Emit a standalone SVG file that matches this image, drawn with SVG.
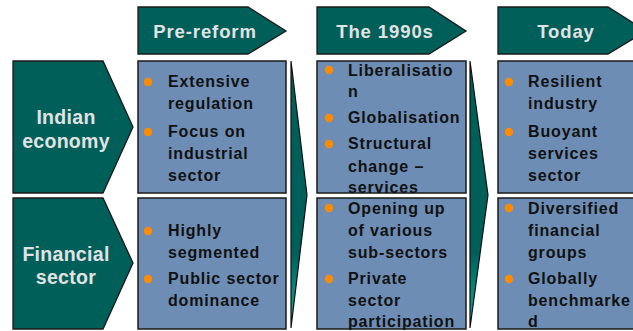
<svg xmlns="http://www.w3.org/2000/svg" width="633" height="331" viewBox="0 0 633 331">
  <defs>
    <linearGradient id="divFill" x1="0" y1="0" x2="0" y2="1">
      <stop offset="0" stop-color="#005f59"/>
      <stop offset="0.72" stop-color="#005f59"/>
      <stop offset="1" stop-color="#10b0a0"/>
    </linearGradient>
    <style>
      .teal { fill: #005f59; stroke: #1a1a1a; stroke-width: 1.3; }
      .box { fill: #6d8db4; stroke: #1a1a1a; stroke-width: 1.5; }
      .div { fill: url(#divFill); stroke: #111; stroke-width: 1.2; }
      .hdr { font-family: "Liberation Sans", Arial, sans-serif; font-weight: bold; font-size: 18.5px; letter-spacing: 0.9px; fill: #e2e2e2; text-anchor: middle; }
      .row { font-family: "Liberation Sans", Arial, sans-serif; font-weight: bold; font-size: 19.5px; letter-spacing: 0.3px; fill: #e2e2e2; text-anchor: middle; }
      .txt { font-family: "Liberation Sans", Arial, sans-serif; font-weight: bold; font-size: 16px; letter-spacing: 0.85px; fill: #111; }
      .dot { fill: #ff8c00; }
    </style>
  </defs>

  <!-- column headers -->
  <g id="hdr-prereform">
    <polygon class="teal" points="138,7 248,7 286,31 248,54 138,54"/>
    <text class="hdr" x="205" y="38">Pre-reform</text>
  </g>
  <g id="hdr-1990s">
    <polygon class="teal" points="317,7 429,7 466,31 429,54 317,54"/>
    <text class="hdr" x="385" y="38">The 1990s</text>
  </g>
  <g id="hdr-today">
    <polygon class="teal" points="498,7 608,7 646,31 608,54 498,54"/>
    <text class="hdr" x="566" y="38">Today</text>
  </g>

  <!-- row headers -->
  <g id="row-indian">
    <polygon class="teal" points="13,61 103,61 133,127 103,193 13,193"/>
    <text class="row" x="66" y="124">Indian</text>
    <text class="row" x="66" y="148">economy</text>
  </g>
  <g id="row-financial">
    <polygon class="teal" points="13,198 103,198 133,263 103,329 13,329"/>
    <text class="row" x="66" y="261">Financial</text>
    <text class="row" x="66" y="284">sector</text>
  </g>

  <!-- connectors: progression chevrons between columns -->
  <g id="connectors">
    <polygon class="div" points="291,61 307,195 291,328"/>
    <polygon class="div" points="470,61 488,195 470,328"/>
  </g>

  <!-- Pre-reform cells -->
  <g id="cell-pre-indian">
    <rect class="box" x="138" y="61" width="148" height="132"/>
    <circle class="dot" cx="148" cy="82" r="4.2"/>
    <text class="txt" x="168" y="87">Extensive</text>
    <text class="txt" x="168" y="109">regulation</text>
    <circle class="dot" cx="148" cy="132" r="4.2"/>
    <text class="txt" x="168" y="137">Focus on</text>
    <text class="txt" x="168" y="159">industrial</text>
    <text class="txt" x="168" y="181">sector</text>
  </g>
  <g id="cell-pre-financial">
    <rect class="box" x="138" y="198" width="148" height="131"/>
    <circle class="dot" cx="148" cy="231" r="4.2"/>
    <text class="txt" x="168" y="236">Highly</text>
    <text class="txt" x="168" y="258">segmented</text>
    <circle class="dot" cx="148" cy="279" r="4.2"/>
    <text class="txt" x="168" y="284">Public sector</text>
    <text class="txt" x="168" y="306">dominance</text>
  </g>

  <!-- 1990s cells -->
  <g id="cell-1990s-indian">
    <rect class="box" x="317" y="61" width="149" height="132"/>
    <circle class="dot" cx="329" cy="70" r="4.2"/>
    <text class="txt" x="348" y="76">Liberalisatio</text>
    <text class="txt" x="348" y="97">n</text>
    <circle class="dot" cx="329" cy="118" r="4.2"/>
    <text class="txt" x="348" y="123">Globalisation</text>
    <circle class="dot" cx="329" cy="144" r="4.2"/>
    <text class="txt" x="348" y="149">Structural</text>
    <text class="txt" x="348" y="172">change –</text>
    <text class="txt" x="348" y="193">services</text>
  </g>
  <g id="cell-1990s-financial">
    <rect class="box" x="317" y="198" width="149" height="131"/>
    <circle class="dot" cx="329" cy="208" r="4.2"/>
    <text class="txt" x="348" y="214">Opening up</text>
    <text class="txt" x="348" y="236">of various</text>
    <text class="txt" x="348" y="258">sub-sectors</text>
    <circle class="dot" cx="329" cy="279" r="4.2"/>
    <text class="txt" x="348" y="284">Private</text>
    <text class="txt" x="348" y="306">sector</text>
    <text class="txt" x="348" y="327">participation</text>
  </g>

  <!-- Today cells -->
  <g id="cell-today-indian">
    <rect class="box" x="498" y="61" width="148" height="132"/>
    <circle class="dot" cx="509" cy="82" r="4.2"/>
    <text class="txt" x="528" y="87">Resilient</text>
    <text class="txt" x="528" y="109">industry</text>
    <circle class="dot" cx="509" cy="132" r="4.2"/>
    <text class="txt" x="528" y="137">Buoyant</text>
    <text class="txt" x="528" y="159">services</text>
    <text class="txt" x="528" y="181">sector</text>
  </g>
  <g id="cell-today-financial">
    <rect class="box" x="498" y="198" width="148" height="131"/>
    <circle class="dot" cx="509" cy="208" r="4.2"/>
    <text class="txt" x="528" y="214">Diversified</text>
    <text class="txt" x="528" y="236">financial</text>
    <text class="txt" x="528" y="258">groups</text>
    <circle class="dot" cx="509" cy="279" r="4.2"/>
    <text class="txt" x="528" y="284">Globally</text>
    <text class="txt" x="528" y="306">benchmarke</text>
    <text class="txt" x="528" y="327">d</text>
  </g>
</svg>
